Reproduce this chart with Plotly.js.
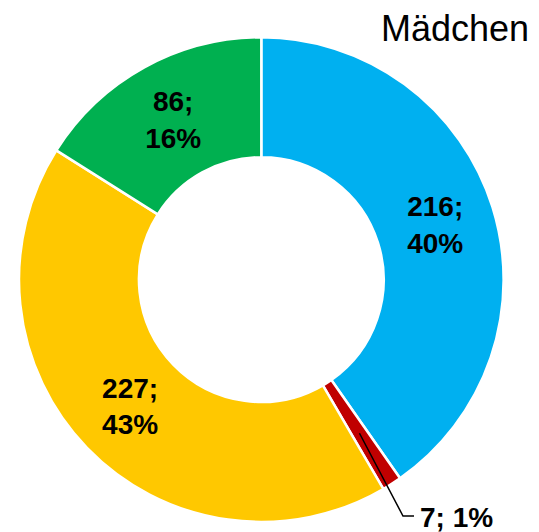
<!DOCTYPE html>
<html>
<head>
<meta charset="utf-8">
<script src="https://cdn.plot.ly/plotly-3.0.1.min.js"></script>
<style>html,body{margin:0;padding:0;background:#fff;}#chart{width:539px;height:532px;}</style>
</head>
<body>
<div id="chart"></div>
<script>
// Data
const categories = ["Blau", "Rot", "Gelb", "Grün"];
const values = [216, 7, 227, 86];
const percentLabels = ["40%", "1%", "43%", "16%"];
const colors = ["#00B0F0", "#C00000", "#FFC800", "#00B050"];
const chartTitle = "Mädchen";

const W = 539, H = 532;
const dom = {x: [19 / W, 503.6 / W], y: [1 - 521.9 / H, 1 - 37.3 / H]};
const hole = 0.505;

// Which slice is labelled outside with a leader
const outsideIdx = 1;

const texts = values.map((v, i) => i === outsideIdx ? "" : "<b>" + v + ";<br>" + percentLabels[i] + "</b>");

const trace = {
  type: "pie",
  labels: categories,
  values: values,
  text: texts,
  textinfo: "text",
  texttemplate: "%{text}",
  textposition: "inside",
  insidetextorientation: "horizontal",
  sort: false,
  direction: "clockwise",
  rotation: 0,
  hole: hole,
  marker: {colors: colors, line: {color: "#ffffff", width: 2.5}},
  textfont: {family: "Liberation Sans, Arial, sans-serif", size: 28, color: "#000000"},
  insidetextfont: {family: "Liberation Sans, Arial, sans-serif", size: 28, color: "#000000"},
  domain: dom,
  showlegend: false,
  hoverinfo: "none"
};

// Leader line anchor computed from data
const total = values.reduce((a, b) => a + b, 0);
let cum = 0;
for (let i = 0; i < outsideIdx; i++) cum += values[i];
const midFrac = (cum + values[outsideIdx] / 2) / total;
const theta = midFrac * 2 * Math.PI;
const cx = (dom.x[0] + dom.x[1]) / 2 * W;
const cy = (1 - (dom.y[0] + dom.y[1]) / 2) * H;
const R = Math.min((dom.x[1] - dom.x[0]) * W, (dom.y[1] - dom.y[0]) * H) / 2;
const rMid = R * (1 + hole) / 2;
const ax = cx + rMid * Math.sin(theta);
const ay = cy - rMid * Math.cos(theta);
const elbow = [403, 516], lineEnd = [414, 516];
const px = x => x / W, py = y => 1 - y / H;

const layout = {
  width: W, height: H,
  margin: {l: 0, r: 0, t: 0, b: 0},
  paper_bgcolor: "#ffffff",
  plot_bgcolor: "#ffffff",
  title: {
    text: chartTitle,
    font: {family: "Liberation Sans, Arial, sans-serif", size: 36, color: "#000000"},
    xref: "container", yref: "container",
    x: 529 / W, xanchor: "right",
    y: 1 - 28 / H, yanchor: "middle"
  },
  shapes: [{
    type: "path", xref: "paper", yref: "paper",
    path: "M " + px(ax) + "," + py(ay) + " L " + px(elbow[0]) + "," + py(elbow[1]) + " L " + px(lineEnd[0]) + "," + py(lineEnd[1]),
    line: {color: "#000000", width: 1.5}
  }],
  annotations: [{
    xref: "paper", yref: "paper",
    x: px(418), y: py(517), xanchor: "left", yanchor: "middle",
    text: "<b>" + values[outsideIdx] + "; " + percentLabels[outsideIdx] + "</b>",
    showarrow: false,
    font: {family: "Liberation Sans, Arial, sans-serif", size: 28, color: "#000000"}
  }]
};

Plotly.newPlot("chart", [trace], layout, {displayModeBar: false, staticPlot: true});
</script>
</body>
</html>
